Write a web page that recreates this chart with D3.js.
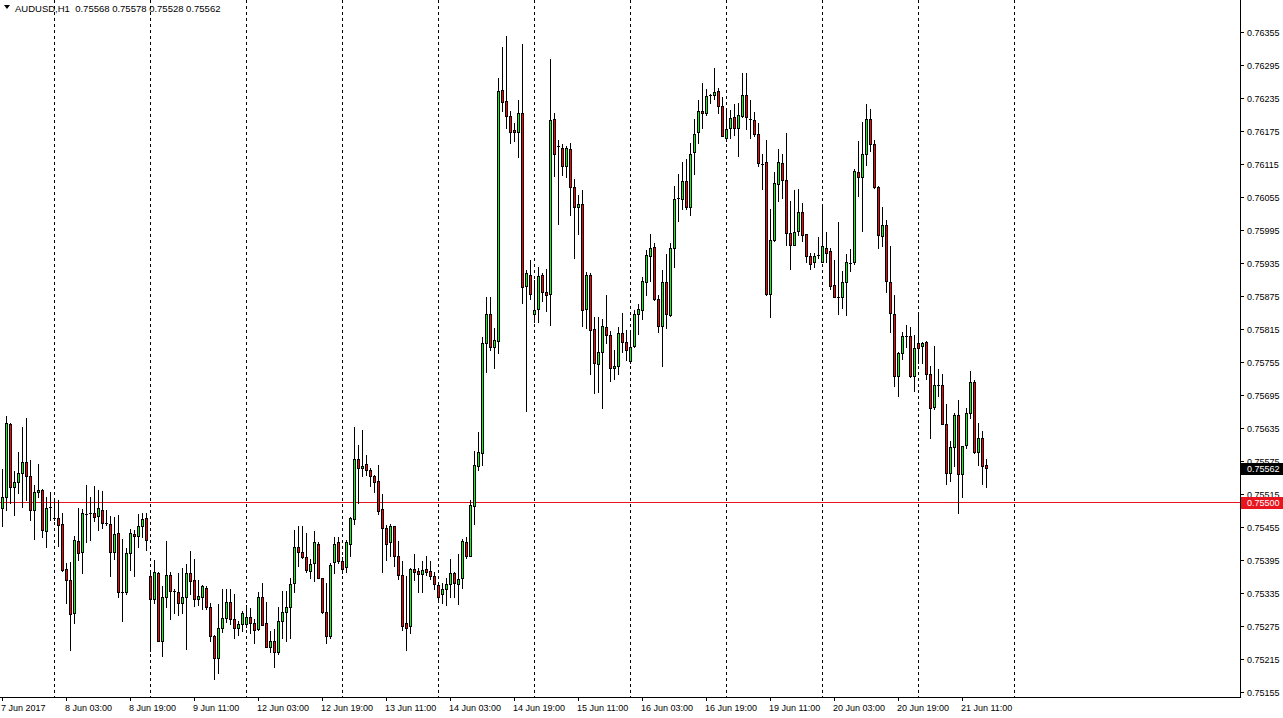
<!DOCTYPE html>
<html><head><meta charset="utf-8">
<script src="https://cdn.jsdelivr.net/npm/d3@7"></script>
<style>html,body{margin:0;padding:0;background:#fff;overflow:hidden}svg text{font-family:"Liberation Sans",Arial,sans-serif;font-size:9px}</style>
</head><body><svg id="c" width="1283" height="718"></svg>
<script>
const symbol = "AUDUSD,H1";
const lastOHLC = [0.75568, 0.75578, 0.75528, 0.75562];
const open = [0.75489,0.75509,0.75643,0.75527,0.75536,0.75554,0.75573,0.75548,0.75486,0.75518,0.75523,0.75447,0.75491,0.75471,0.75471,0.75460,0.75378,0.75359,0.75298,0.75429,0.75409,0.75479,0.75480,0.75480,0.75475,0.75486,0.75462,0.75460,0.75410,0.75445,0.75336,0.75336,0.75407,0.75443,0.75439,0.75456,0.75471,0.75365,0.75325,0.75371,0.75248,0.75328,0.75368,0.75339,0.75337,0.75316,0.75327,0.75371,0.75358,0.75325,0.75327,0.75345,0.75310,0.75257,0.75216,0.75272,0.75289,0.75318,0.75287,0.75271,0.75278,0.75278,0.75291,0.75280,0.75270,0.75328,0.75280,0.75237,0.75247,0.75227,0.75285,0.75300,0.75309,0.75353,0.75418,0.75409,0.75401,0.75375,0.75389,0.75425,0.75363,0.75300,0.75256,0.75391,0.75427,0.75394,0.75383,0.75425,0.75469,0.75578,0.75562,0.75569,0.75559,0.75548,0.75539,0.75487,0.75454,0.75427,0.75456,0.75403,0.75367,0.75280,0.75275,0.75378,0.75375,0.75369,0.75378,0.75375,0.75366,0.75350,0.75333,0.75343,0.75351,0.75371,0.75351,0.75362,0.75427,0.75403,0.75494,0.75566,0.75590,0.75789,0.75843,0.75783,0.75794,0.76249,0.76230,0.76203,0.76177,0.76173,0.76207,0.75894,0.75914,0.75843,0.75851,0.75913,0.75882,0.75878,0.76197,0.76147,0.76145,0.76112,0.76142,0.76073,0.76036,0.76043,0.75851,0.75914,0.75815,0.75751,0.75773,0.75819,0.75804,0.75745,0.75748,0.75807,0.75791,0.75756,0.75784,0.75843,0.75850,0.75901,0.75947,0.75964,0.75869,0.75821,0.75900,0.75840,0.75962,0.76053,0.76051,0.76084,0.76037,0.76136,0.76173,0.76211,0.76207,0.76240,0.76240,0.76248,0.76220,0.76163,0.76181,0.76200,0.76180,0.76203,0.76240,0.76197,0.76195,0.76169,0.76115,0.76118,0.75878,0.75977,0.76078,0.76116,0.76086,0.75989,0.75967,0.75994,0.76027,0.75988,0.75948,0.75936,0.75950,0.75937,0.75962,0.75957,0.75895,0.75874,0.75874,0.75900,0.75935,0.75936,0.76100,0.76092,0.76134,0.76196,0.76151,0.76073,0.75984,0.76004,0.75901,0.75843,0.75730,0.75771,0.75803,0.75803,0.75730,0.75789,0.75784,0.75791,0.75733,0.75673,0.75713,0.75713,0.75643,0.75553,0.75601,0.75659,0.75551,0.75605,0.75663,0.75718,0.75591,0.75616,0.75568];
const high = [0.75560,0.75656,0.75645,0.75556,0.75592,0.75637,0.75653,0.75577,0.75531,0.75570,0.75525,0.75510,0.75519,0.75504,0.75504,0.75480,0.75390,0.75391,0.75439,0.75489,0.75487,0.75531,0.75510,0.75530,0.75522,0.75521,0.75486,0.75475,0.75474,0.75477,0.75433,0.75416,0.75451,0.75450,0.75479,0.75480,0.75480,0.75371,0.75395,0.75373,0.75348,0.75429,0.75374,0.75343,0.75372,0.75381,0.75388,0.75411,0.75397,0.75359,0.75350,0.75347,0.75317,0.75259,0.75315,0.75343,0.75342,0.75342,0.75334,0.75285,0.75302,0.75313,0.75307,0.75287,0.75337,0.75354,0.75318,0.75266,0.75269,0.75309,0.75339,0.75339,0.75362,0.75450,0.75457,0.75456,0.75445,0.75396,0.75448,0.75427,0.75363,0.75354,0.75389,0.75437,0.75436,0.75401,0.75431,0.75474,0.75636,0.75604,0.75631,0.75586,0.75562,0.75550,0.75568,0.75515,0.75459,0.75460,0.75456,0.75430,0.75394,0.75365,0.75381,0.75406,0.75380,0.75394,0.75403,0.75394,0.75374,0.75354,0.75354,0.75362,0.75396,0.75374,0.75406,0.75434,0.75437,0.75504,0.75594,0.75628,0.75801,0.75874,0.75874,0.75816,0.76271,0.76328,0.76347,0.76211,0.76190,0.76231,0.76333,0.75923,0.75940,0.75904,0.75927,0.75917,0.75924,0.76306,0.76207,0.76159,0.76152,0.76147,0.76154,0.76088,0.76059,0.76068,0.75918,0.75917,0.75836,0.75836,0.75833,0.75877,0.75811,0.75777,0.75819,0.75844,0.75814,0.75813,0.75850,0.75861,0.75909,0.75959,0.75988,0.75972,0.75877,0.75922,0.75951,0.75971,0.76075,0.76097,0.76119,0.76124,0.76154,0.76196,0.76231,0.76263,0.76251,0.76243,0.76290,0.76253,0.76236,0.76217,0.76214,0.76224,0.76225,0.76281,0.76281,0.76231,0.76210,0.76190,0.76133,0.76159,0.76033,0.76101,0.76142,0.76134,0.76172,0.76047,0.76067,0.76070,0.76045,0.75988,0.75954,0.75954,0.75983,0.76042,0.75992,0.75962,0.75940,0.76010,0.75921,0.75951,0.75960,0.76106,0.76156,0.76192,0.76224,0.76215,0.76159,0.76075,0.76036,0.76013,0.75966,0.75877,0.75774,0.75809,0.75822,0.75818,0.75804,0.75845,0.75792,0.75793,0.75748,0.75784,0.75743,0.75734,0.75679,0.75611,0.75663,0.75686,0.75603,0.75671,0.75739,0.75722,0.75645,0.75630,0.75578];
const low = [0.75457,0.75486,0.75498,0.75477,0.75516,0.75492,0.75504,0.75468,0.75434,0.75510,0.75437,0.75419,0.75468,0.75467,0.75421,0.75375,0.75317,0.75231,0.75280,0.75395,0.75371,0.75428,0.75431,0.75465,0.75450,0.75453,0.75459,0.75365,0.75396,0.75327,0.75285,0.75334,0.75376,0.75366,0.75419,0.75437,0.75413,0.75230,0.75317,0.75247,0.75220,0.75310,0.75288,0.75298,0.75295,0.75298,0.75233,0.75334,0.75311,0.75313,0.75306,0.75306,0.75248,0.75179,0.75190,0.75265,0.75283,0.75279,0.75254,0.75259,0.75266,0.75274,0.75263,0.75245,0.75268,0.75276,0.75236,0.75228,0.75201,0.75225,0.75254,0.75247,0.75254,0.75337,0.75385,0.75398,0.75373,0.75363,0.75356,0.75362,0.75298,0.75245,0.75254,0.75372,0.75389,0.75372,0.75374,0.75403,0.75460,0.75499,0.75548,0.75550,0.75530,0.75519,0.75478,0.75374,0.75395,0.75403,0.75385,0.75360,0.75268,0.75231,0.75262,0.75359,0.75336,0.75337,0.75367,0.75360,0.75342,0.75319,0.75317,0.75313,0.75327,0.75327,0.75315,0.75345,0.75399,0.75403,0.75460,0.75559,0.75568,0.75737,0.75776,0.75745,0.75772,0.76211,0.76181,0.76154,0.76157,0.76127,0.75863,0.75665,0.75869,0.75828,0.75828,0.75865,0.75847,0.75823,0.76094,0.76005,0.76095,0.76092,0.76023,0.75945,0.75987,0.75820,0.75817,0.75734,0.75698,0.75701,0.75671,0.75789,0.75721,0.75724,0.75733,0.75773,0.75759,0.75753,0.75783,0.75806,0.75834,0.75877,0.75902,0.75867,0.75810,0.75748,0.75816,0.75839,0.75928,0.76012,0.76034,0.76033,0.76022,0.76096,0.76154,0.76180,0.76204,0.76225,0.76234,0.76208,0.76166,0.76156,0.76162,0.76168,0.76130,0.76200,0.76178,0.76163,0.76166,0.76111,0.76069,0.75877,0.75837,0.75975,0.76047,0.76054,0.75967,0.75924,0.75967,0.75985,0.75975,0.75937,0.75925,0.75927,0.75945,0.75937,0.75936,0.75888,0.75873,0.75843,0.75853,0.75840,0.75921,0.75933,0.76057,0.75994,0.76114,0.76139,0.76072,0.75962,0.75966,0.75883,0.75810,0.75711,0.75694,0.75760,0.75783,0.75728,0.75702,0.75753,0.75754,0.75724,0.75617,0.75670,0.75693,0.75642,0.75534,0.75539,0.75565,0.75480,0.75510,0.75598,0.75653,0.75589,0.75567,0.75533,0.75528];
const close = [0.75509,0.75645,0.75527,0.75536,0.75554,0.75573,0.75548,0.75486,0.75519,0.75523,0.75450,0.75489,0.75491,0.75471,0.75459,0.75377,0.75359,0.75296,0.75431,0.75407,0.75480,0.75479,0.75480,0.75473,0.75489,0.75462,0.75462,0.75409,0.75442,0.75336,0.75336,0.75407,0.75445,0.75439,0.75457,0.75469,0.75431,0.75325,0.75373,0.75248,0.75327,0.75368,0.75339,0.75339,0.75316,0.75328,0.75371,0.75356,0.75324,0.75330,0.75347,0.75309,0.75256,0.75217,0.75271,0.75289,0.75318,0.75288,0.75271,0.75278,0.75298,0.75291,0.75280,0.75268,0.75328,0.75277,0.75237,0.75247,0.75227,0.75285,0.75300,0.75309,0.75351,0.75418,0.75409,0.75401,0.75376,0.75387,0.75428,0.75363,0.75300,0.75256,0.75386,0.75425,0.75393,0.75378,0.75427,0.75472,0.75578,0.75563,0.75566,0.75559,0.75548,0.75537,0.75485,0.75454,0.75425,0.75456,0.75403,0.75367,0.75275,0.75272,0.75378,0.75374,0.75369,0.75376,0.75374,0.75365,0.75351,0.75327,0.75343,0.75351,0.75371,0.75354,0.75360,0.75430,0.75403,0.75495,0.75568,0.75591,0.75790,0.75843,0.75783,0.75795,0.76248,0.76228,0.76203,0.76174,0.76173,0.76207,0.75892,0.75916,0.75878,0.75850,0.75912,0.75882,0.75876,0.76195,0.76134,0.76147,0.76112,0.76144,0.76073,0.76037,0.76043,0.75850,0.75913,0.75814,0.75753,0.75773,0.75821,0.75804,0.75744,0.75748,0.75807,0.75791,0.75777,0.75782,0.75842,0.75851,0.75903,0.75950,0.75962,0.75869,0.75821,0.75900,0.75842,0.75962,0.76051,0.76053,0.76084,0.76036,0.76134,0.76169,0.76211,0.76207,0.76239,0.76240,0.76245,0.76220,0.76166,0.76179,0.76198,0.76180,0.76204,0.76240,0.76200,0.76197,0.76169,0.76116,0.76115,0.75878,0.75977,0.76080,0.76119,0.76086,0.75989,0.75967,0.75991,0.76027,0.75985,0.75948,0.75934,0.75948,0.75950,0.75966,0.75954,0.75894,0.75874,0.75874,0.75900,0.75936,0.75935,0.76102,0.76092,0.76134,0.76196,0.76151,0.76074,0.75985,0.76004,0.75903,0.75845,0.75730,0.75771,0.75802,0.75803,0.75730,0.75780,0.75780,0.75789,0.75733,0.75671,0.75713,0.75713,0.75643,0.75553,0.75600,0.75659,0.75551,0.75602,0.75663,0.75718,0.75591,0.75616,0.75565,0.75562];
const priceTicks = [0.76355,0.76295,0.76235,0.76175,0.76115,0.76055,0.75995,0.75935,0.75875,0.75815,0.75755,0.75695,0.75635,0.75575,0.75515,0.75455,0.75395,0.75335,0.75275,0.75215,0.75155];
const timeLabels = ["7 Jun 2017","8 Jun 03:00","8 Jun 19:00","9 Jun 11:00","12 Jun 03:00","12 Jun 19:00","13 Jun 11:00","14 Jun 03:00","14 Jun 19:00","15 Jun 11:00","16 Jun 03:00","16 Jun 19:00","19 Jun 11:00","20 Jun 03:00","20 Jun 19:00","21 Jun 11:00"];
const timeLabelBars = [0,16,32,48,64,80,96,112,128,144,160,176,192,208,224,240];
const daySeparatorBars = [13,37,61,85,109,133,157,181,205,229,253];
const levelPrice = 0.75500;
const currentPrice = 0.75562;

const W = 1283, H = 718, plotRight = 1240, plotBottom = 697;
const svg = d3.select("#c");
const x = d3.scaleLinear().domain([0, 253]).range([2.5, 1014.5]);
const y = d3.scaleLinear().domain([0.75155, 0.76355]).range([692, 32]);
const ry = v => Math.round(y(v));
const fmt = d3.format(".5f");

const bars = open.map((o, i) => ({i, o, h: high[i], l: low[i], c: close[i]}));

// day separators
svg.append("g").selectAll("line").data(daySeparatorBars).join("line")
  .attr("x1", d => x(d)).attr("x2", d => x(d)).attr("y1", 0).attr("y2", plotBottom)
  .attr("stroke", "#000").attr("stroke-width", 1).attr("stroke-dasharray", "3,3");

// level line
svg.append("line").attr("x1", 0).attr("x2", plotRight).attr("y1", ry(levelPrice) + 0.5).attr("y2", ry(levelPrice) + 0.5)
  .attr("stroke", "#e8141e").attr("stroke-width", 1);

// candles
const cg = svg.append("g").attr("shape-rendering", "crispEdges");
const g = cg.selectAll("g").data(bars).join("g");
g.append("rect").attr("x", d => x(d.i) - 0.5).attr("width", 1)
  .attr("y", d => ry(d.h)).attr("height", d => Math.max(1, ry(d.l) - ry(d.h) + 1)).attr("fill", "#000");
g.append("rect").attr("x", d => x(d.i) - 1.5).attr("width", 3)
  .attr("y", d => ry(Math.max(d.o, d.c)))
  .attr("height", d => Math.max(1, ry(Math.min(d.o, d.c)) - ry(Math.max(d.o, d.c)) + 1)).attr("fill", "#000");
g.filter(d => ry(Math.min(d.o, d.c)) - ry(Math.max(d.o, d.c)) >= 2).append("rect")
  .attr("x", d => x(d.i) - 0.5).attr("width", 1)
  .attr("y", d => ry(Math.max(d.o, d.c)) + 1)
  .attr("height", d => ry(Math.min(d.o, d.c)) - ry(Math.max(d.o, d.c)) - 1)
  .attr("fill", d => d.c >= d.o ? "#00ff00" : "#ff0000");

// frame
svg.append("line").attr("x1", plotRight + 0.5).attr("x2", plotRight + 0.5).attr("y1", 0).attr("y2", plotBottom + 1).attr("stroke", "#000");
svg.append("line").attr("x1", 0).attr("x2", plotRight + 1).attr("y1", plotBottom + 0.5).attr("y2", plotBottom + 0.5).attr("stroke", "#000");

// price axis
const pa = svg.append("g");
pa.selectAll("line").data(priceTicks).join("line")
  .attr("x1", plotRight).attr("x2", plotRight + 4).attr("y1", d => ry(d) + 0.5).attr("y2", d => ry(d) + 0.5).attr("stroke", "#000");
pa.selectAll("text").data(priceTicks).join("text")
  .attr("x", 1247).attr("y", d => y(d) + 3.5).text(d => fmt(d)).attr("fill", "#000");

// time axis
const ta = svg.append("g");
ta.selectAll("line").data(timeLabelBars).join("line")
  .attr("x1", d => x(d)).attr("x2", d => x(d)).attr("y1", plotBottom).attr("y2", plotBottom + 4).attr("stroke", "#000");
ta.selectAll("text").data(timeLabels).join("text")
  .attr("x", (d, k) => x(timeLabelBars[k]) - 1.5).attr("y", 711).text(d => d).attr("fill", "#000");

// price boxes
function box(p, color) {
  const cy = ry(p);
  svg.append("rect").attr("x", plotRight + 1).attr("y", cy - 5).attr("width", W - plotRight - 1).attr("height", 12).attr("fill", color);
  svg.append("text").attr("x", 1247).attr("y", cy + 4).attr("fill", "#fff").text(fmt(p));
}
box(currentPrice, "#000");
box(levelPrice, "#e8141e");

// header
svg.append("path").attr("d", "M4,5 L10,5 L7,9 Z").attr("fill", "#000");
svg.append("text").attr("x", 15).attr("y", 12).attr("fill", "#000").style("font-size", "9.5px")
  .text(symbol + "  " + lastOHLC.map(fmt).join(" ")).attr("xml:space", "preserve").style("white-space", "pre");
</script></body></html>
